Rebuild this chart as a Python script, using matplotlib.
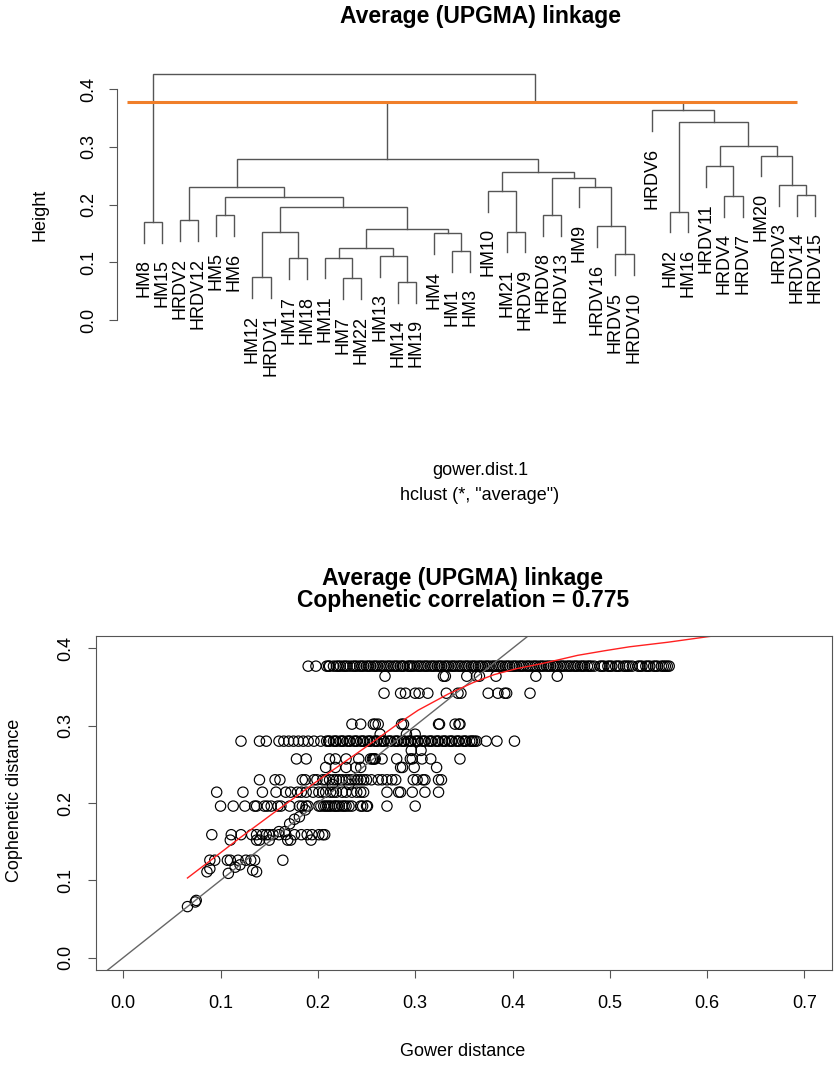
import matplotlib
matplotlib.use("Agg")
import matplotlib.pyplot as plt

plt.rcParams['font.family'] = ['Liberation Sans', 'DejaVu Sans']

# ---------------- Dendrogram data ----------------
leaf_labels = ["HM8", "HM15", "HRDV2", "HRDV12", "HM5", "HM6", "HM12", "HRDV1", "HM17", "HM18",
               "HM11", "HM7", "HM22", "HM13", "HM14", "HM19", "HM4", "HM1", "HM3", "HM10",
               "HM21", "HRDV9", "HRDV8", "HRDV13", "HM9", "HRDV16", "HRDV5", "HRDV10", "HRDV6", "HM2",
               "HM16", "HRDV11", "HRDV4", "HRDV7", "HM20", "HRDV3", "HRDV14", "HRDV15"]

merge_left = ["HM14", "HM7", "HM12", "HM17", "HM11", "HM13", "HRDV5", "HM1", "c5", "HM4",
              "c3", "HM21", "c9", "HRDV16", "HM8", "HRDV2", "HM5", "HRDV8", "HM2", "c11",
              "c17", "HRDV4", "HRDV14", "HM10", "c16", "HM9", "HRDV3", "c18", "c24", "HRDV11",
              "c25", "HM20", "c30", "c19", "HRDV6", "c31", "c15"]
merge_right = ["HM19", "HM22", "HRDV1", "HM18", "c2", "c1", "HRDV10", "HM3", "c6", "c8",
               "c4", "HRDV9", "c10", "c7", "HM15", "HRDV12", "HM6", "HRDV13", "HM16", "c13",
               "c20", "HRDV7", "HRDV15", "c12", "c21", "c14", "c23", "c26", "c28", "c22",
               "c29", "c27", "c32", "c33", "c34", "c35", "c36"]
merge_height = [0.066, 0.072, 0.074, 0.107, 0.108, 0.111, 0.114, 0.120, 0.124, 0.150,
                0.152, 0.153, 0.158, 0.163, 0.170, 0.173, 0.182, 0.182, 0.188, 0.195,
                0.214, 0.215, 0.217, 0.224, 0.230, 0.231, 0.234, 0.246, 0.257, 0.267,
                0.279, 0.285, 0.302, 0.343, 0.364, 0.377, 0.426]
cut_height = 0.377

# ---------------- Cophenetic scatter data ----------------
gower_0377 = [0.190, 0.198, 0.209, 0.211, 0.212, 0.216, 0.219, 0.221, 0.223, 0.226, 0.228, 0.230,
              0.233, 0.236, 0.238, 0.240, 0.243, 0.245, 0.247, 0.250, 0.252, 0.254, 0.257, 0.259,
              0.261, 0.264, 0.266, 0.268, 0.271, 0.273, 0.275, 0.278, 0.280, 0.282, 0.285, 0.287,
              0.288, 0.292, 0.294, 0.295, 0.297, 0.299, 0.302, 0.304, 0.306, 0.309, 0.311, 0.313,
              0.316, 0.318, 0.320, 0.323, 0.325, 0.327, 0.330, 0.332, 0.334, 0.337, 0.339, 0.341,
              0.344, 0.346, 0.348, 0.351, 0.353, 0.355, 0.358, 0.360, 0.362, 0.365, 0.367, 0.369,
              0.372, 0.374, 0.376, 0.379, 0.381, 0.383, 0.386, 0.388, 0.390, 0.393, 0.395, 0.397,
              0.400, 0.402, 0.404, 0.407, 0.409, 0.411, 0.414, 0.416, 0.418, 0.421, 0.423, 0.425,
              0.428, 0.430, 0.432, 0.435, 0.437, 0.439, 0.442, 0.444, 0.446, 0.449, 0.451, 0.453,
              0.456, 0.458, 0.460, 0.463, 0.465, 0.467, 0.470, 0.472, 0.474, 0.477, 0.479, 0.481,
              0.484, 0.490, 0.492, 0.494, 0.498, 0.500, 0.502, 0.506, 0.508, 0.510, 0.514, 0.516,
              0.518, 0.520, 0.523, 0.529, 0.531, 0.533, 0.537, 0.539, 0.541, 0.545, 0.547, 0.549,
              0.553, 0.555, 0.557, 0.559, 0.561]
gower_0364 = [0.269, 0.329, 0.331, 0.353, 0.363, 0.366, 0.383, 0.424, 0.446]
gower_0342 = [0.268, 0.285, 0.290, 0.300, 0.304, 0.313, 0.332, 0.344, 0.347, 0.375, 0.385,
              0.392, 0.394, 0.418]
gower_0302 = [0.235, 0.244, 0.257, 0.259, 0.262, 0.286, 0.288, 0.324, 0.325, 0.341, 0.345, 0.346]
gower_0289 = [0.264, 0.291, 0.300]
gower_0280 = [0.121, 0.140, 0.147, 0.160, 0.165, 0.170, 0.175, 0.180, 0.185, 0.190, 0.196, 0.203,
              0.209, 0.211, 0.212, 0.216, 0.218, 0.219, 0.223, 0.225, 0.226, 0.230, 0.232, 0.233,
              0.237, 0.239, 0.240, 0.244, 0.246, 0.247, 0.251, 0.253, 0.254, 0.258, 0.260, 0.261,
              0.265, 0.267, 0.268, 0.272, 0.274, 0.275, 0.279, 0.281, 0.282, 0.286, 0.288, 0.289,
              0.293, 0.295, 0.296, 0.300, 0.302, 0.303, 0.307, 0.309, 0.310, 0.314, 0.316, 0.317,
              0.321, 0.323, 0.324, 0.328, 0.330, 0.331, 0.335, 0.337, 0.338, 0.342, 0.344, 0.345,
              0.349, 0.351, 0.352, 0.356, 0.358, 0.359, 0.361, 0.363, 0.373, 0.384, 0.402]
gower_0268 = [0.296, 0.306]
gower_0257 = [0.178, 0.188, 0.212, 0.218, 0.229, 0.242, 0.254, 0.256, 0.257, 0.258, 0.259, 0.266,
              0.281, 0.295, 0.297, 0.307, 0.316, 0.346]
gower_0246 = [0.208, 0.218, 0.229, 0.239, 0.244, 0.285, 0.287, 0.299, 0.322]
gower_0230 = [0.140, 0.156, 0.161, 0.184, 0.187, 0.196, 0.199, 0.205, 0.208, 0.212, 0.216, 0.219,
              0.222, 0.225, 0.229, 0.232, 0.235, 0.238, 0.241, 0.244, 0.247, 0.250, 0.255, 0.262,
              0.266, 0.271, 0.276, 0.280, 0.298, 0.302, 0.308, 0.310, 0.324, 0.327]
gower_0224 = [0.215, 0.232]
gower_0214 = [0.096, 0.123, 0.143, 0.157, 0.167, 0.172, 0.179, 0.183, 0.188, 0.195, 0.201, 0.205,
              0.208, 0.213, 0.216, 0.219, 0.225, 0.229, 0.235, 0.240, 0.244, 0.247, 0.271, 0.283,
              0.285, 0.297, 0.310, 0.324]
gower_0196 = [0.100, 0.113, 0.125, 0.135, 0.137, 0.145, 0.148, 0.152, 0.159, 0.162, 0.171, 0.181,
              0.184, 0.188, 0.201, 0.203, 0.206, 0.208, 0.210, 0.212, 0.214, 0.217, 0.218, 0.220,
              0.222, 0.225, 0.227, 0.229, 0.232, 0.235, 0.244, 0.246, 0.250, 0.251, 0.271, 0.300]
gower_0159 = [0.091, 0.111, 0.121, 0.132, 0.137, 0.143, 0.147, 0.150, 0.154, 0.160, 0.167, 0.176,
              0.183, 0.189, 0.194, 0.201, 0.205, 0.207]
gower_0152 = [0.110, 0.137, 0.140, 0.150, 0.169, 0.172, 0.193]
gower_0126 = [0.089, 0.094, 0.107, 0.110, 0.118, 0.126, 0.131, 0.135, 0.164]
single_gower = [0.066, 0.074, 0.075, 0.086, 0.089, 0.108, 0.115, 0.120, 0.133, 0.137,
                0.160, 0.166, 0.171, 0.176, 0.181, 0.187, 0.190]
single_coph = [0.066, 0.072, 0.074, 0.111, 0.115, 0.109, 0.117, 0.120, 0.113, 0.111,
               0.163, 0.163, 0.173, 0.179, 0.182, 0.191, 0.196]

coph_levels = [0.377, 0.364, 0.342, 0.302, 0.289, 0.280, 0.268, 0.257, 0.246, 0.230,
               0.224, 0.214, 0.196, 0.159, 0.152, 0.126]
gower_rows = [gower_0377, gower_0364, gower_0342, gower_0302, gower_0289, gower_0280,
              gower_0268, gower_0257, gower_0246, gower_0230, gower_0224, gower_0214,
              gower_0196, gower_0159, gower_0152, gower_0126]

smooth_x = [0.066, 0.091, 0.120, 0.150, 0.200, 0.250, 0.283, 0.303, 0.334, 0.360, 0.381,
            0.405, 0.429, 0.450, 0.467, 0.495, 0.520, 0.560, 0.600, 0.700]
smooth_y = [0.103, 0.127, 0.155, 0.183, 0.229, 0.273, 0.303, 0.320, 0.341, 0.356, 0.366,
            0.374, 0.380, 0.386, 0.391, 0.397, 0.402, 0.408, 0.415, 0.431]

coph_corr = 0.775

# ---------------- Figure ----------------
W, H = 835, 1068
fig = plt.figure(figsize=(W / 100, H / 100), dpi=100)

def fx(px):
    return px / W

def fy(py):
    return 1 - py / H

line_col = '#555555'

# ---- Dendrogram axes ----
n = len(leaf_labels)
ax1 = fig.add_axes([fx(116.7), fy(380), fx(842) - fx(116.7), fy(60) - fy(380)])
ax1.set_xlim(1 - 0.04 * (n - 1), n + 0.04 * (n - 1))
ax1.set_ylim(-0.104, 0.4506)

pos = {name: i + 1 for i, name in enumerate(leaf_labels)}
hgt = {}
hang = 0.1 * (max(merge_height) - min(merge_height))
leaf_end = {}
for k, (a, b, h) in enumerate(zip(merge_left, merge_right, merge_height)):
    cid = "c%d" % (k + 1)
    xa, xb = pos[a], pos[b]
    ya = hgt.get(a, h - hang)
    yb = hgt.get(b, h - hang)
    if a not in hgt:
        leaf_end[a] = h - hang
    if b not in hgt:
        leaf_end[b] = h - hang
    ax1.plot([xa, xa, xb, xb], [ya, h, h, yb], color=line_col, lw=1.0, solid_joinstyle='miter')
    pos[cid] = (xa + xb) / 2
    hgt[cid] = h

for name in leaf_labels:
    ax1.annotate(name, (pos[name], leaf_end[name]), xytext=(0, -12), textcoords='offset points',
                 rotation=90, ha='center', va='top', fontsize=13, annotation_clip=False)

ax1.hlines(cut_height, 0.06, 37.0, color='#F07F2A', lw=2.2, zorder=5)

for s in ['top', 'right', 'bottom']:
    ax1.spines[s].set_visible(False)
ax1.spines['left'].set_bounds(0, 0.4)
ax1.spines['left'].set_color(line_col)
ax1.set_xticks([])
ax1.set_yticks([0.0, 0.1, 0.2, 0.3, 0.4])
ax1.set_yticklabels(["0.0", "0.1", "0.2", "0.3", "0.4"], rotation=90, va='center', fontsize=13)
ax1.tick_params(axis='y', length=6, color=line_col, pad=8)
fig.text(fx(40), fy(215), "Height", rotation=90, ha='center', va='center', fontsize=13)

fig.text(fx(480), fy(16), "Average (UPGMA) linkage", ha='center', va='center',
         fontsize=16.5, fontweight='bold')
fig.text(fx(480), fy(470), "gower.dist.1", ha='center', va='center', fontsize=13)
fig.text(fx(480), fy(495), 'hclust (*, "average")', ha='center', va='center', fontsize=13)

# ---- Scatter axes ----
ax2 = fig.add_axes([fx(96), fy(970), fx(831.7) - fx(96), fy(636) - fy(970)])
ax2.set_xlim(-0.028, 0.728)
ax2.set_ylim(-0.016, 0.416)

for lvl, xs in zip(coph_levels, gower_rows):
    ax2.scatter(xs, [lvl] * len(xs), s=55, facecolors='none', edgecolors='black', linewidths=0.85)
ax2.scatter(single_gower, single_coph, s=55, facecolors='none', edgecolors='black', linewidths=0.85)

ax2.axline((0, 0), slope=1, color='#666666', lw=1.0)
ax2.plot(smooth_x, smooth_y, color='#FF2020', lw=1.0)

for s in ax2.spines.values():
    s.set_color(line_col)
ax2.set_xticks([0.0, 0.1, 0.2, 0.3, 0.4, 0.5, 0.6, 0.7])
ax2.set_xticklabels(["0.0", "0.1", "0.2", "0.3", "0.4", "0.5", "0.6", "0.7"], fontsize=13)
ax2.set_yticks([0.0, 0.1, 0.2, 0.3, 0.4])
ax2.set_yticklabels(["0.0", "0.1", "0.2", "0.3", "0.4"], rotation=90, va='center', fontsize=13)
ax2.tick_params(axis='both', length=6, color=line_col)
ax2.tick_params(axis='x', pad=12)
ax2.tick_params(axis='y', pad=10)

fig.text(fx(463), fy(1052), "Gower distance", ha='center', va='center', fontsize=13)
fig.text(fx(15), fy(800), "Cophenetic distance", rotation=90, ha='center', va='center', fontsize=13)
fig.text(fx(463), fy(578), "Average (UPGMA) linkage", ha='center', va='center',
         fontsize=16.5, fontweight='bold')
fig.text(fx(463), fy(601), "Cophenetic correlation = %.3f" % coph_corr, ha='center', va='center',
         fontsize=16.5, fontweight='bold')

fig.savefig("out.png", dpi=100)
